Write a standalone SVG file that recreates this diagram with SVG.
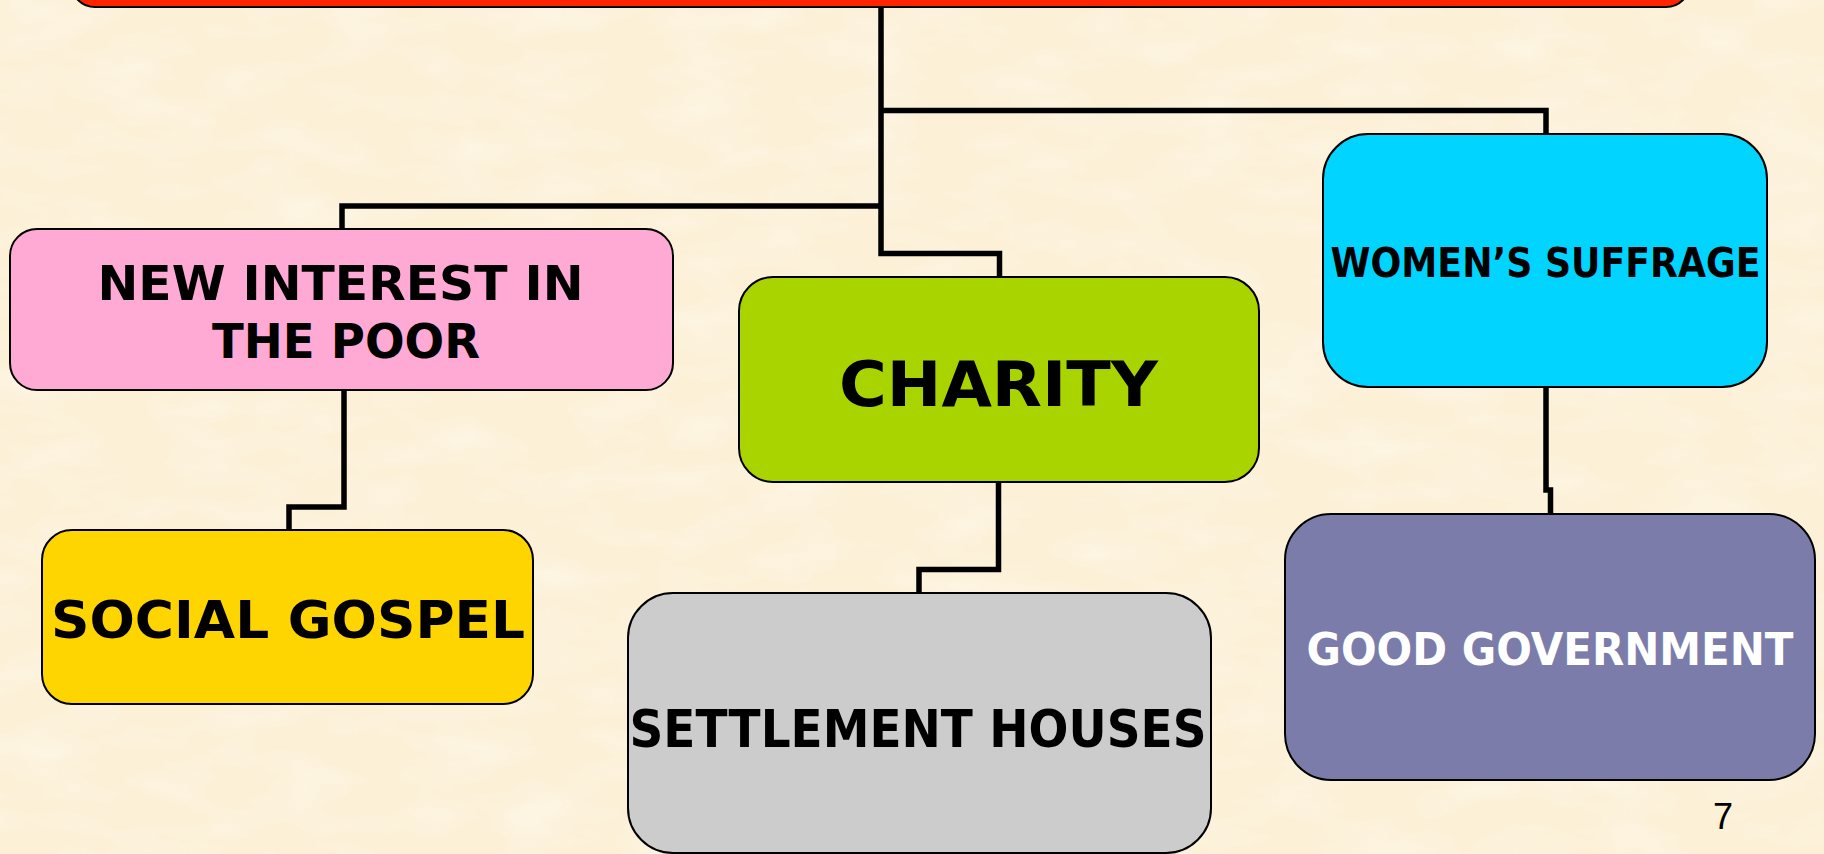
<svg xmlns="http://www.w3.org/2000/svg" width="1824" height="854" viewBox="0 0 1824 854">
<defs>
<filter id="tex" x="0" y="0" width="100%" height="100%">
<feTurbulence type="fractalNoise" baseFrequency="0.012 0.03" numOctaves="3" seed="4" result="n"/>
<feColorMatrix in="n" type="matrix" values="0 0 0 0 1  0 0 0 0 1  0 0 0 0 1  0 0 0 -1.2 0.75" result="w"/>
<feComposite in="w" in2="SourceGraphic" operator="in"/>
</filter>
<style>
.box{stroke:#000;stroke-width:2}
.conn{fill:none;stroke:#000;stroke-width:5.5;stroke-linejoin:miter;stroke-linecap:butt}
.lbl{font-family:"DejaVu Sans","Liberation Sans",sans-serif;font-weight:bold;text-anchor:middle;fill:#000}
</style>
</defs>
<rect x="0" y="0" width="1824" height="854" fill="#FCF0D6"/>
<rect x="0" y="0" width="1824" height="854" fill="#FFF9EC" filter="url(#tex)" opacity="0.5"/>

<g id="top">
<rect class="box" x="71" y="-60" width="1619" height="67" rx="24" fill="#FF2400"/>
</g>

<g id="connectors">
<path class="conn" d="M881 7 V253.5 H999.5 V277"/>
<path class="conn" d="M881 206 H342 V229"/>
<path class="conn" d="M881 110.5 H1546 V134"/>
<path class="conn" d="M344 390 V507 H289 V530"/>
<path class="conn" d="M998.5 482 V569.5 H919 V593"/>
<path class="conn" d="M1546 387 V490 H1550.5 V514"/>
</g>

<g id="new-interest">
<rect class="box" x="10" y="229" width="663" height="161" rx="27" fill="#FFAAD5"/>
<text class="lbl" x="340.5" y="300" font-size="48" textLength="486" lengthAdjust="spacingAndGlyphs">NEW INTEREST IN</text>
<text class="lbl" x="346" y="358" font-size="48" textLength="268" lengthAdjust="spacingAndGlyphs">THE POOR</text>
</g>

<g id="social-gospel">
<rect class="box" x="42" y="530" width="491" height="174" rx="30" fill="#FFD500"/>
<text class="lbl" x="288" y="638" font-size="52" textLength="474" lengthAdjust="spacingAndGlyphs">SOCIAL GOSPEL</text>
</g>

<g id="charity">
<rect class="box" x="739" y="277" width="520" height="205" rx="34" fill="#AAD400"/>
<text class="lbl" x="998.5" y="406" font-size="63" textLength="319" lengthAdjust="spacingAndGlyphs">CHARITY</text>
</g>

<g id="settlement-houses">
<rect class="box" x="628" y="593" width="583" height="260" rx="45" fill="#CCCCCC"/>
<text class="lbl" x="918" y="747" font-size="51" textLength="577" lengthAdjust="spacingAndGlyphs">SETTLEMENT HOUSES</text>
</g>

<g id="womens-suffrage">
<rect class="box" x="1323" y="134" width="444" height="253" rx="45" fill="#00D4FF"/>
<text class="lbl" x="1545.5" y="277" font-size="40" textLength="430" lengthAdjust="spacingAndGlyphs">WOMEN’S SUFFRAGE</text>
</g>

<g id="good-government">
<rect class="box" x="1285" y="514" width="530" height="266" rx="46" fill="#7B7CA9"/>
<text class="lbl" x="1550" y="665" font-size="44" textLength="487" lengthAdjust="spacingAndGlyphs" style="fill:#fff">GOOD GOVERNMENT</text>
</g>

<text x="1723" y="829" font-family="Liberation Sans, Arial, sans-serif" font-size="36" text-anchor="middle" fill="#000">7</text>
</svg>
